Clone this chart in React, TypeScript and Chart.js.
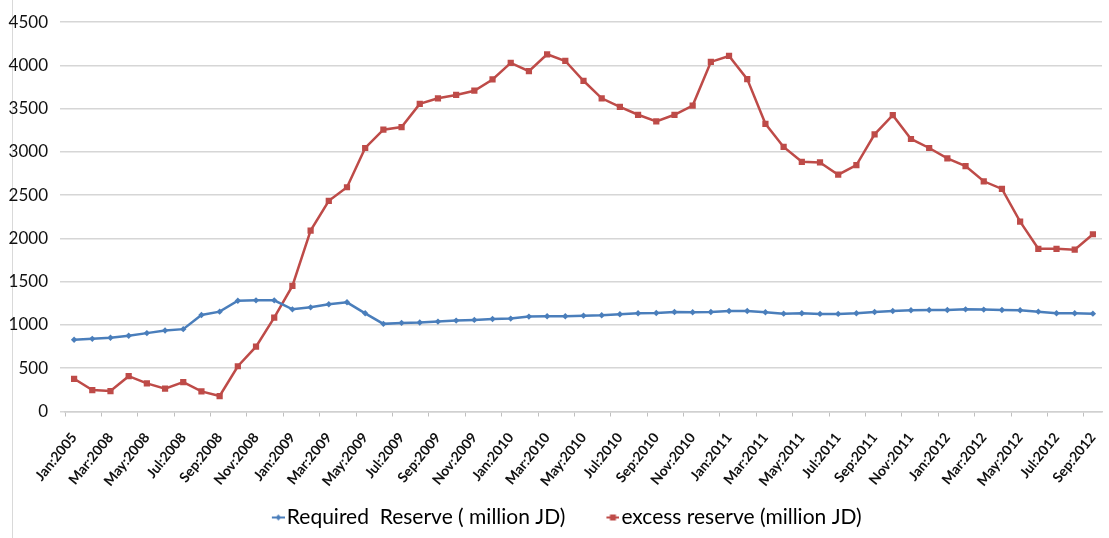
import { useEffect, useRef } from "react";
import { Chart, registerables } from "chart.js";

Chart.register(...registerables);

// Monthly observations (the first label is written as it appears on the axis)
const months = [
  "Jan:2005", "Feb:2008", "Mar:2008", "Apr:2008", "May:2008", "Jun:2008",
  "Jul:2008", "Aug:2008", "Sep:2008", "Oct:2008", "Nov:2008", "Dec:2008",
  "Jan:2009", "Feb:2009", "Mar:2009", "Apr:2009", "May:2009", "Jun:2009",
  "Jul:2009", "Aug:2009", "Sep:2009", "Oct:2009", "Nov:2009", "Dec:2009",
  "Jan:2010", "Feb:2010", "Mar:2010", "Apr:2010", "May:2010", "Jun:2010",
  "Jul:2010", "Aug:2010", "Sep:2010", "Oct:2010", "Nov:2010", "Dec:2010",
  "Jan:2011", "Feb:2011", "Mar:2011", "Apr:2011", "May:2011", "Jun:2011",
  "Jul:2011", "Aug:2011", "Sep:2011", "Oct:2011", "Nov:2011", "Dec:2011",
  "Jan:2012", "Feb:2012", "Mar:2012", "Apr:2012", "May:2012", "Jun:2012",
  "Jul:2012", "Aug:2012", "Sep:2012",
];

// Required reserve, million JD
const requiredReserve = [
  830, 840, 852, 875, 906, 936, 952, 1116, 1154, 1280, 1285, 1285,
  1181, 1204, 1239, 1262, 1135, 1013, 1024, 1028, 1039, 1051, 1059, 1070,
  1074, 1097, 1101, 1101, 1108, 1112, 1124, 1135, 1139, 1150, 1147, 1150,
  1162, 1162, 1147, 1131, 1135, 1128, 1128, 1135, 1150, 1162, 1170, 1174,
  1174, 1181, 1178, 1174, 1170, 1154, 1135, 1135, 1131,
];

// Excess reserve, million JD
const excessReserve = [
  378, 248, 236, 408, 325, 264, 340, 233, 179, 523, 749, 1085,
  1452, 2091, 2435, 2592, 3046, 3257, 3288, 3556, 3620, 3659, 3708, 3838,
  4029, 3934, 4129, 4052, 3823, 3620, 3521, 3430, 3353, 3430, 3536, 4041,
  4110, 3842, 3326, 3058, 2886, 2879, 2737, 2848, 3204, 3425, 3150, 3046,
  2925, 2837, 2661, 2573, 2194, 1881, 1881, 1870, 2049,
];

const seriesNames = ["Required  Reserve ( million JD)", "excess reserve (million JD)"];

const Y_MIN = 0;
const Y_MAX = 4500;
const Y_STEP = 500;

const BLUE = "#4a7ebb";
const RED = "#be4b48";
const FONT = "Lato, 'Liberation Sans', sans-serif";

// Small line-with-marker swatch for the legend; the visible part sits at the
// right edge so it ends right before the label text.
function legendSwatch(color: string, marker: "diamond" | "square"): HTMLCanvasElement {
  const W = 53;
  const H = 12;
  const c = document.createElement("canvas");
  c.width = W;
  c.height = H;
  const ctx = c.getContext("2d")!;
  const x0 = W - 13;
  const cy = H / 2;
  ctx.strokeStyle = color;
  ctx.lineWidth = 2;
  ctx.beginPath();
  ctx.moveTo(x0, cy);
  ctx.lineTo(W, cy);
  ctx.stroke();
  ctx.fillStyle = color;
  const mx = x0 + 6.5;
  if (marker === "diamond") {
    ctx.beginPath();
    ctx.moveTo(mx, cy - 3);
    ctx.lineTo(mx + 3, cy);
    ctx.lineTo(mx, cy + 3);
    ctx.lineTo(mx - 3, cy);
    ctx.closePath();
    ctx.fill();
  } else {
    ctx.fillRect(mx - 3, cy - 3, 6, 6);
  }
  return c;
}

const framePlugin = {
  id: "frame",
  beforeDraw(chart: Chart) {
    const { ctx, width, height } = chart;
    ctx.save();
    ctx.fillStyle = "#ffffff";
    ctx.fillRect(0, 0, width, height);
    ctx.strokeStyle = "#d9d9d9";
    ctx.lineWidth = 1;
    ctx.beginPath();
    ctx.moveTo(12.5, 0);
    ctx.lineTo(12.5, height);
    ctx.stroke();
    ctx.restore();
  },
};

export default function App() {
  const canvasRef = useRef<HTMLCanvasElement | null>(null);

  useEffect(() => {
    if (!canvasRef.current) return;
    const swatches = [legendSwatch(BLUE, "diamond"), legendSwatch(RED, "square")];

    const chart = new Chart(canvasRef.current, {
      type: "line",
      data: {
        labels: months,
        datasets: [
          {
            label: seriesNames[0],
            data: requiredReserve,
            borderColor: BLUE,
            backgroundColor: BLUE,
            borderWidth: 2.5,
            pointStyle: "rectRot",
            pointRadius: 3.2,
            pointBorderWidth: 0,
            pointBackgroundColor: BLUE,
            tension: 0,
          },
          {
            label: seriesNames[1],
            data: excessReserve,
            borderColor: RED,
            backgroundColor: RED,
            borderWidth: 2.5,
            pointStyle: "rect",
            pointRadius: 4.4,
            pointBorderWidth: 0,
            pointBackgroundColor: RED,
            tension: 0,
          },
        ],
      },
      options: {
        responsive: false,
        animation: false,
        devicePixelRatio: 1,
        layout: { padding: { top: 20, right: 7, left: 0, bottom: 0 } },
        plugins: {
          tooltip: { enabled: false },
          legend: {
            position: "bottom",
            align: "center",
            labels: {
              usePointStyle: true,
              pointStyleWidth: 36,
              padding: 9.5,
              color: "#000000",
              font: { family: FONT, size: 21 },
              generateLabels: (ch: Chart) =>
                Chart.defaults.plugins.legend.labels
                  .generateLabels(ch)
                  .map((item: any, i: number) => ({ ...item, pointStyle: swatches[i] })),
            },
          },
        },
        scales: {
          x: {
            type: "category",
            offset: true,
            grid: {
              offset: true,
              drawOnChartArea: false,
              drawTicks: true,
              tickLength: 5,
              lineWidth: 1,
              color: (ctx: any) => (ctx.index % 2 === 0 ? "#bfbfbf" : "rgba(0,0,0,0)"),
            },
            border: { display: true, color: "#d0d0d0", width: 1.5 },
            ticks: {
              autoSkip: false,
              maxRotation: 51,
              minRotation: 51,
              padding: 13,
              color: "#111111",
              font: { family: FONT, size: 14, weight: "bold" },
              callback: (_v: any, i: number) => (i % 2 === 0 ? months[i] : ""),
            },
            afterFit: (s: any) => {
              s.height = 86;
              // rotated labels end at their tick, so no extra side room is needed
              s.paddingLeft = 0;
              s.paddingRight = 0;
            },
          },
          y: {
            min: Y_MIN,
            max: Y_MAX,
            ticks: {
              stepSize: Y_STEP,
              padding: 12,
              color: "#111111",
              font: { family: FONT, size: 17 },
              callback: (v: any) => String(v),
            },
            grid: { color: "#d6d6d6", lineWidth: 1.5, tickLength: 5 },
            border: { display: false },
            afterFit: (s: any) => {
              s.width = 65;
            },
          },
        },
      },
      plugins: [framePlugin],
    } as any);

    return () => chart.destroy();
  }, []);

  return (
    <div
      style={{
        position: "fixed",
        left: 0,
        top: 0,
        width: 1109,
        height: 538,
        background: "#ffffff",
      }}
    >
      <canvas ref={canvasRef} width={1109} height={538} style={{ width: 1109, height: 538 }} />
    </div>
  );
}
